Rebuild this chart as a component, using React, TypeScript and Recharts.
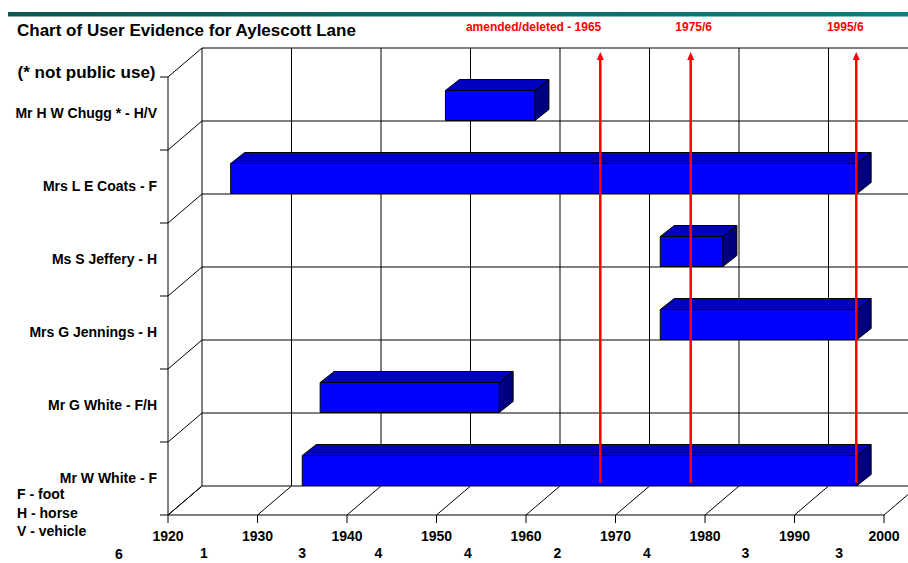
import React from 'react';
import { BarChart, Bar, XAxis, YAxis, ReferenceLine, ReferenceArea } from 'recharts';

// users listed top to bottom as in the chart
const users = [
  'Mr H W Chugg * - H/V',
  'Mrs L E Coats - F',
  'Ms S Jeffery - H',
  'Mrs G Jennings - H',
  'Mr G White - F/H',
  'Mr W White - F',
];
const startYears = [1951, 1927, 1975, 1975, 1937, 1935];
const endYears = [1961, 1997, 1982, 1997, 1957, 1997];

const decadeTicks = [1920, 1930, 1940, 1950, 1960, 1970, 1980, 1990, 2000];

// user counts written under the axis
const countYears = [1924, 1935, 1943.5, 1953.5, 1963.5, 1973.5, 1984.5, 1995];
const countLabels = ['1', '3', '4', '4', '2', '4', '3', '3'];
const totalUsers = '6';

const arrowYears = [1968.3, 1978.4, 1996.9];
const arrowLabels = ['amended/deleted - 1965', '1975/6', '1995/6'];

const legendLines = ['F - foot', 'H - horse', 'V - vehicle'];

const rows = users.map((name, i) => ({ name, span: [startYears[i], endYears[i]] }));

const W = 908;
const H = 563;
const FONT = 'Arial, "Liberation Sans", Helvetica, sans-serif';
const DEPTH_X = 34; // wall depth
const DEPTH_Y = 29;
const BAR_DX = 14; // bar depth
const BAR_DY = 11;
const BAR_SHIFT = -8.5;
const TICK = 8;
const ARROW_LABEL_POS = [
  { anchor: 'end', dx: 1 },
  { anchor: 'middle', dx: 3 },
  { anchor: 'middle', dx: -11 },
];

const tickStyle = { fill: '#000', fontSize: 14, fontWeight: 700, fontFamily: FONT };

// left wall, back wall rows and front floor edge, from the plot rectangle
const Frame = (p: any) => {
  const { x, y, width, height } = p;
  const n = users.length;
  const band = height / n;
  const bounds = Array.from({ length: n + 1 }, (_, k) => y + k * band);
  return (
    <g>
      <line x1={x} y1={y} x2={x} y2={y + height} stroke="#000" />
      <line x1={x} y1={y + height} x2={x + width} y2={y + height} stroke="#000" />
      {bounds.map((by, k) => {
        const last = k === n;
        return (
          <g key={k}>
            <line x1={x - TICK} y1={by} x2={x} y2={by} stroke="#000" />
            <line x1={x} y1={by} x2={x + DEPTH_X} y2={by - DEPTH_Y} stroke="#000" />
            <line
              x1={x + DEPTH_X}
              y1={by - DEPTH_Y}
              x2={x + width + DEPTH_X}
              y2={by - DEPTH_Y}
              stroke={last ? '#808080' : '#000'}
              strokeWidth={last ? 2 : 1}
            />
          </g>
        );
      })}
    </g>
  );
};

const DecadeWall = (p: any) => {
  const { x1, y1, y2 } = p;
  const top = Math.min(y1, y2);
  const bottom = Math.max(y1, y2);
  return (
    <g>
      <line x1={x1 + DEPTH_X} y1={top - DEPTH_Y} x2={x1 + DEPTH_X} y2={bottom - DEPTH_Y} stroke="#000" />
      <line x1={x1} y1={bottom} x2={x1 + DEPTH_X} y2={bottom - DEPTH_Y} stroke="#000" />
      <line x1={x1} y1={bottom} x2={x1} y2={bottom + TICK} stroke="#000" />
    </g>
  );
};

const Bar3D = (p: any) => {
  const { x, y, width, height } = p;
  const fy = y + BAR_SHIFT;
  const r = x + width;
  return (
    <g stroke="#000" strokeWidth={1} strokeLinejoin="round">
      <polygon
        points={`${x},${fy} ${x + BAR_DX},${fy - BAR_DY} ${r + BAR_DX},${fy - BAR_DY} ${r},${fy}`}
        fill="#0000c0"
      />
      <polygon
        points={`${r},${fy} ${r + BAR_DX},${fy - BAR_DY} ${r + BAR_DX},${fy + height - BAR_DY} ${r},${fy + height}`}
        fill="#000080"
      />
      <rect x={x} y={fy} width={width} height={height} fill="#0000ff" />
    </g>
  );
};

const Arrow = (p: any) => {
  const { x1, y1, y2, idx } = p;
  const tip = Math.min(y1, y2) - DEPTH_Y + 4;
  const bottom = Math.max(y1, y2) - DEPTH_Y - 3;
  const pos = ARROW_LABEL_POS[idx];
  return (
    <g>
      <line x1={x1} y1={tip + 6} x2={x1} y2={bottom} stroke="#ff0000" strokeWidth={2.5} />
      <polygon points={`${x1},${tip} ${x1 - 3.5},${tip + 8} ${x1 + 3.5},${tip + 8}`} fill="#ff0000" />
      <text
        x={x1 + pos.dx}
        y={tip - 21}
        textAnchor={pos.anchor}
        fill="#ff0000"
        fontSize={12}
        fontWeight={700}
        fontFamily={FONT}
      >
        {arrowLabels[idx]}
      </text>
    </g>
  );
};

const layer: React.CSSProperties = { position: 'absolute', left: 0, top: 0 };

export default function App() {
  return (
    <div style={{ position: 'absolute', left: 0, top: 0, width: W, height: H, background: '#fff' }}>
      <svg width={W} height={H} style={layer}>
        <defs>
          <linearGradient id="tealBar" x1="0" y1="0" x2="1" y2="0">
            <stop offset="0%" stopColor="#0d5751" />
            <stop offset="100%" stopColor="#0a807c" />
          </linearGradient>
        </defs>
        <rect x={8} y={12} width={900} height={4.5} fill="url(#tealBar)" />
        <text x={17} y={36} fontSize={17} fontWeight={700} fontFamily={FONT} fill="#000">
          Chart of User Evidence for Aylescott Lane
        </text>
        <text x={155.5} y={78} textAnchor="end" fontSize={17} fontWeight={700} fontFamily={FONT} fill="#000">
          (* not public use)
        </text>
        {legendLines.map((t, i) => (
          <text key={t} x={17} y={499 + i * 18.5} fontSize={14} fontWeight={700} fontFamily={FONT} fill="#000">
            {t}
          </text>
        ))}
        <text x={119} y={559} textAnchor="middle" fontSize={14} fontWeight={700} fontFamily={FONT} fill="#000">
          {totalUsers}
        </text>
      </svg>

      {/* back layer: 3D walls and floor */}
      <div style={layer}>
        <BarChart
          width={W}
          height={H}
          data={rows}
          layout="vertical"
          barSize={30}
          margin={{ top: 77, right: 24, bottom: 48, left: 168 }}
        >
          <XAxis type="number" domain={[1920, 2000]} allowDataOverflow hide />
          <YAxis type="category" dataKey="name" hide />
          <Bar dataKey="span" fill="none" stroke="none" isAnimationActive={false} />
          <ReferenceArea shape={Frame} />
          {decadeTicks.map((t) => (
            <ReferenceLine key={'dec' + t} x={t} shape={DecadeWall} />
          ))}
        </BarChart>
      </div>

      {/* front layer: bars, axis labels, arrows */}
      <div style={layer}>
        <BarChart
          width={W}
          height={H}
          data={rows}
          layout="vertical"
          barSize={30}
          margin={{ top: 77, right: 24, bottom: 0, left: 8 }}
        >
          <XAxis
            type="number"
            domain={[1920, 2000]}
            allowDataOverflow
            ticks={decadeTicks}
            interval={0}
            height={24}
            tickSize={TICK}
            tickMargin={8}
            axisLine={false}
            tickLine={false}
            tick={tickStyle}
          />
          <XAxis
            xAxisId="counts"
            type="number"
            domain={[1920, 2000]}
            allowDataOverflow
            ticks={countYears}
            interval={0}
            height={24}
            tickSize={6}
            tickMargin={3}
            axisLine={false}
            tickLine={false}
            tickFormatter={(v: number) => countLabels[countYears.indexOf(v)]}
            tick={tickStyle}
          />
          <YAxis
            type="category"
            dataKey="name"
            width={160}
            interval={0}
            tickSize={TICK}
            tickMargin={3}
            tickLine={false}
            axisLine={false}
            tick={tickStyle}
          />
          <Bar dataKey="span" shape={Bar3D} isAnimationActive={false} />
          {arrowYears.map((yr, i) => (
            <ReferenceLine key={'arrow' + i} x={yr} shape={(p: any) => <Arrow {...p} idx={i} />} />
          ))}
        </BarChart>
      </div>
    </div>
  );
}
